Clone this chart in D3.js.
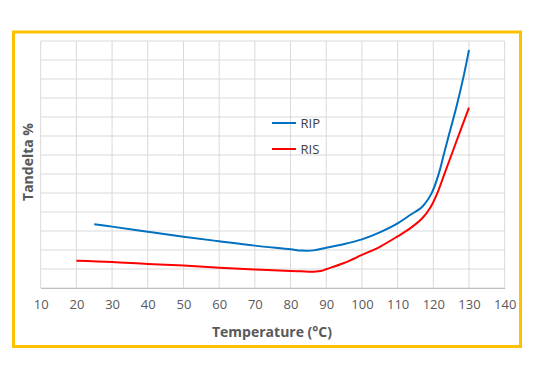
<!DOCTYPE html>
<html>
<head>
<meta charset="utf-8">
<script src="https://cdn.jsdelivr.net/npm/d3@7"></script>
<style>
  html, body { margin: 0; padding: 0; background: #fff; }
  svg { display: block; }
</style>
</head>
<body>
<svg id="chart" width="538" height="380"></svg>
<script>
// ---- data ----
const seriesNames = ["RIP", "RIS"];
const ripTemp = [25, 30, 40, 50, 60, 70, 80, 83, 86.5, 90, 94.8, 100, 105, 110, 113.5, 116.9, 119.5, 121.5, 122.9, 124, 126.5, 128.5, 130];
const ripVal  = [3.35, 3.23, 2.96, 2.70, 2.46, 2.23, 2.04, 1.97, 1.98, 2.12, 2.30, 2.56, 2.93, 3.40, 3.84, 4.28, 4.98, 6.0, 7.0, 7.79, 9.55, 11.15, 12.53];
const risTemp = [20, 30, 40, 50, 60, 70, 80, 83, 86.5, 88.8, 90, 94.8, 100, 105, 110, 113.5, 116.9, 119.3, 121.1, 123.2, 124.8, 126.3, 130];
const risVal  = [1.44, 1.37, 1.26, 1.18, 1.07, 0.98, 0.90, 0.88, 0.86, 0.91, 0.99, 1.30, 1.74, 2.17, 2.72, 3.14, 3.67, 4.28, 4.98, 6.05, 6.86, 7.63, 9.49];
const xTicks = [10, 20, 30, 40, 50, 60, 70, 80, 90, 100, 110, 120, 130, 140];
const yGrid = [0, 1, 2, 3, 4, 5, 6, 7, 8, 9, 10, 11, 12, 13];
const xTitle = "Temperature (°C)";
const yTitle = "Tandelta %";

const colors = ["#0070C0", "#FF0000"];

const svg = d3.select("#chart");

// outer yellow frame
svg.append("rect")
  .attr("x", 13.5).attr("y", 32).attr("width", 507).attr("height", 314.5)
  .attr("fill", "#fff").attr("stroke", "#FFC000").attr("stroke-width", 3);

const x = d3.scaleLinear().domain([10, 140]).range([40.7, 504.7]);
const y = d3.scaleLinear().domain([0, 13]).range([288, 41]);

// gridlines
const g = svg.append("g");
g.selectAll("line.v").data(xTicks).join("line")
  .attr("x1", d => x(d)).attr("x2", d => x(d))
  .attr("y1", y(13)).attr("y2", y(0))
  .attr("stroke", "#d9d9d9").attr("stroke-width", 1);
g.selectAll("line.h").data(yGrid).join("line")
  .attr("x1", x(10)).attr("x2", x(140))
  .attr("y1", d => y(d)).attr("y2", d => y(d))
  .attr("stroke", "#d9d9d9").attr("stroke-width", 1);

// x axis
const xAxis = d3.axisBottom(x).tickValues(xTicks).tickSize(0).tickPadding(12);
const ax = svg.append("g").attr("transform", `translate(0,${y(0)})`).call(xAxis);
ax.select(".domain").attr("stroke", "#bfbfbf").attr("stroke-width", 1.2);
ax.selectAll("text")
  .attr("font-family", "'Open Sans', sans-serif")
  .attr("font-size", 13).attr("fill", "#595959");

// lines
const line = d3.line().x(d => x(d[0])).y(d => y(d[1])).curve(d3.curveCatmullRom.alpha(0.5));
const series = [
  d3.zip(ripTemp, ripVal),
  d3.zip(risTemp, risVal)
];
svg.selectAll("path.series").data(series).join("path")
  .attr("class", "series")
  .attr("d", line)
  .attr("fill", "none")
  .attr("stroke", (d, i) => colors[i])
  .attr("stroke-width", 2);

// legend
const leg = svg.append("g");
seriesNames.forEach((n, i) => {
  const ly = 123 + i * 26;
  leg.append("line").attr("x1", 272).attr("x2", 296).attr("y1", ly).attr("y2", ly)
    .attr("stroke", colors[i]).attr("stroke-width", 2);
  leg.append("text").attr("x", 300.5).attr("y", ly).attr("dy", "0.35em")
    .attr("font-family", "'Open Sans', sans-serif").attr("font-size", 13)
    .attr("fill", "#404040").text(n);
});

// axis titles
svg.append("text")
  .attr("x", 272).attr("y", 332).attr("dy", "0.35em")
  .attr("text-anchor", "middle")
  .attr("font-family", "'Open Sans', sans-serif").attr("font-weight", "bold")
  .attr("font-size", 14).attr("fill", "#595959")
  .text(xTitle);
svg.append("text")
  .attr("transform", "translate(28,162) rotate(-90)")
  .attr("dy", "0.35em")
  .attr("text-anchor", "middle")
  .attr("font-family", "'Open Sans', sans-serif").attr("font-weight", "bold")
  .attr("font-size", 14).attr("fill", "#595959")
  .text(yTitle);
</script>
</body>
</html>
